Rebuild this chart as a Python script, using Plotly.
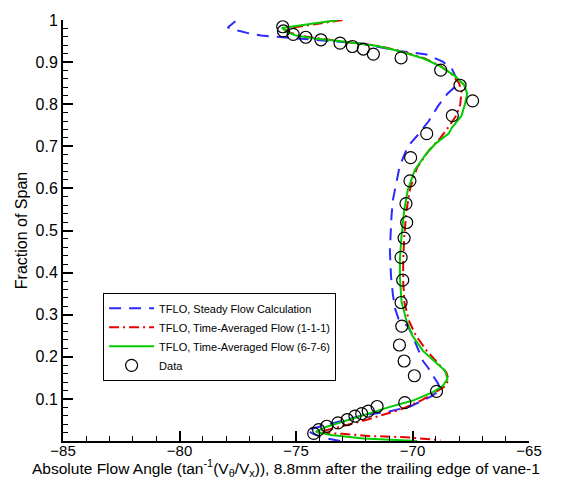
import plotly.graph_objects as go

# ---- data (angle in degrees, fraction of span) ----
steady_angle = [-77.6, -77.93, -77.5, -77.0, -76.5, -75.7, -74.0, -72.2, -70.5, -69.4, -68.7, -68.3,
                -68.1, -68.2, -68.5, -68.9, -69.3, -69.8, -70.2, -70.55, -70.7, -70.84, -70.9, -70.95,
                -70.97, -70.95, -70.92, -70.84, -70.75, -70.6, -70.19, -70.03, -69.55, -69.33, -69.12,
                -68.9, -68.8, -69.2, -70.1, -71.0, -72.2, -73.3, -74.0, -74.55, -74.3, -73.8, -73.4, -73.1]
steady_span = [0.997, 0.982, 0.975, 0.968, 0.963, 0.960, 0.952, 0.944, 0.926, 0.918, 0.901, 0.883,
               0.860, 0.840, 0.825, 0.796, 0.760, 0.725, 0.700, 0.653, 0.613, 0.573, 0.535, 0.488,
               0.455, 0.425, 0.390, 0.347, 0.315, 0.290, 0.272, 0.254, 0.190, 0.174, 0.155,
               0.136, 0.122, 0.106, 0.082, 0.070, 0.060, 0.045, 0.034, 0.026, 0.018, 0.007, 0.002, 0.0]

avg111_angle = [-73.0, -74.3, -75.5, -75.3, -74.9, -74.1, -73.0, -71.5, -70.5, -69.5, -68.8, -68.3,
                -68.0, -67.9, -67.95, -68.1, -68.4, -68.8, -69.3, -69.8, -70.1, -70.25, -70.35, -70.4,
                -70.4, -70.35, -70.15, -69.85, -69.4, -68.9, -68.55, -68.45, -68.65, -69.2, -69.6,
                -70.5, -71.2, -72.0, -72.9, -73.7, -74.1, -73.0, -71.9, -70.3, -68.8]
avg111_span = [1.0, 0.990, 0.979, 0.971, 0.963, 0.957, 0.950, 0.939, 0.926, 0.909, 0.891, 0.870,
               0.850, 0.830, 0.800, 0.775, 0.750, 0.720, 0.690, 0.650, 0.600, 0.550, 0.490, 0.430,
               0.380, 0.330, 0.285, 0.250, 0.215, 0.185, 0.163, 0.145, 0.128, 0.110, 0.097,
               0.075, 0.063, 0.050, 0.037, 0.026, 0.020, 0.017, 0.012, 0.009, 0.002]

avg676_angle = [-73.2, -74.4, -75.6, -75.4, -75.0, -74.2, -73.0, -71.5, -70.5, -69.5, -68.8, -68.2,
                -67.8, -67.65, -67.75, -67.9, -68.3, -68.45, -69.0, -69.4, -69.9, -70.2, -70.35, -70.47,
                -70.54, -70.54, -70.47, -70.25, -70.0, -69.55, -68.96, -68.6, -68.5, -68.7, -69.12,
                -69.98, -70.97, -71.82, -72.82, -73.68, -74.15, -73.5, -72.1, -70.7, -69.8]
avg676_span = [1.0, 0.990, 0.981, 0.972, 0.963, 0.956, 0.949, 0.938, 0.925, 0.908, 0.890, 0.868,
               0.847, 0.825, 0.800, 0.772, 0.745, 0.730, 0.707, 0.683, 0.644, 0.597, 0.550, 0.488,
               0.433, 0.386, 0.331, 0.284, 0.250, 0.214, 0.186, 0.167, 0.147, 0.131, 0.116,
               0.096, 0.081, 0.066, 0.049, 0.034, 0.022, 0.014, 0.006, 0.002, 0.0]

data_angle = [-75.57, -75.54, -75.12, -74.58, -73.93, -73.11, -72.58, -72.11, -71.68, -70.49,
              -68.79, -67.96, -67.42, -68.29, -69.39, -70.08, -70.11, -70.28, -70.25, -70.36,
              -70.49, -70.42, -70.49, -70.46, -70.56, -70.36, -69.92, -68.97, -70.33, -71.52,
              -71.9, -72.18, -72.47, -72.8, -73.2, -73.68, -74.03, -74.24]
data_span = [0.984, 0.974, 0.966, 0.959, 0.953, 0.945, 0.937, 0.931, 0.919, 0.910,
             0.881, 0.845, 0.808, 0.773, 0.730, 0.673, 0.618, 0.564, 0.519, 0.482,
             0.436, 0.382, 0.329, 0.273, 0.228, 0.190, 0.155, 0.118, 0.091, 0.082,
             0.071, 0.065, 0.059, 0.051, 0.043, 0.035, 0.027, 0.018]

x_ticks = [-85, -80, -75, -70, -65]
y_ticks = [0.1, 0.2, 0.3, 0.4, 0.5, 0.6, 0.7, 0.8, 0.9, 1.0]
y_ticktext = ["0.1", "0.2", "0.3", "0.4", "0.5", "0.6", "0.7", "0.8", "0.9", "1"]
x_title = "Absolute Flow Angle (tan<sup>-1</sup>(V<sub>θ</sub>/V<sub>x</sub>)), 8.8mm after the trailing edge of vane-1"
y_title = "Fraction of Span"

FONT = "Arial, 'Liberation Sans', sans-serif"

fig = go.Figure()
fig.add_trace(go.Scatter(x=steady_angle, y=steady_span, mode="lines",
                         name="TFLO, Steady Flow Calculation",
                         line=dict(color="#2b2bff", width=2, dash="12px,8px")))
fig.add_trace(go.Scatter(x=avg111_angle, y=avg111_span, mode="lines",
                         name="TFLO, Time-Averaged Flow (1-1-1)",
                         line=dict(color="#e60000", width=2, dash="10px,4px,2px,4px")))
fig.add_trace(go.Scatter(x=avg676_angle, y=avg676_span, mode="lines",
                         name="TFLO, Time-Averaged Flow (6-7-6)",
                         line=dict(color="#00cc00", width=2)))
fig.add_trace(go.Scatter(x=data_angle, y=data_span, mode="markers", name="Data",
                         marker=dict(symbol="circle-open", size=12, color="black",
                                     line=dict(width=1.2, color="black"))))

fig.update_layout(
    width=567, height=479,
    margin=dict(l=63, r=38, t=15, b=38),
    paper_bgcolor="white", plot_bgcolor="white",
    font=dict(family=FONT, color="black"),
    showlegend=True,
    legend=dict(x=0.086, y=0.352, xanchor="left", yanchor="top",
                bgcolor="white", bordercolor="black", borderwidth=1,
                font=dict(size=11, family=FONT), tracegroupgap=0,
                itemwidth=45),
    annotations=[
        dict(text=x_title, xref="paper", yref="paper", x=0.478, y=-0.0645,
             xanchor="center", yanchor="middle", showarrow=False,
             font=dict(size=15.5, family=FONT)),
    ],
)
fig.update_xaxes(
    range=[-85, -65], tickmode="array", tickvals=x_ticks,
    ticks="inside", ticklen=10, tickwidth=2, tickcolor="black",
    showline=True, linecolor="black", linewidth=2, mirror=False,
    showgrid=False, zeroline=False,
    tickfont=dict(size=15, family=FONT), ticklabelstandoff=-5,
    minor=dict(dtick=1, tick0=-85, ticks="inside", ticklen=5, tickwidth=1, tickcolor="black", showgrid=False),
)
fig.update_yaxes(
    range=[0, 1], tickmode="array", tickvals=y_ticks, ticktext=y_ticktext,
    ticks="inside", ticklen=10, tickwidth=2, tickcolor="black",
    showline=True, linecolor="black", linewidth=2, mirror=False,
    showgrid=False, zeroline=False,
    tickfont=dict(size=16, family=FONT),
    minor=dict(dtick=0.02, tick0=0, ticks="inside", ticklen=5, tickwidth=1, tickcolor="black", showgrid=False),
    title=dict(text=y_title, font=dict(size=16, family=FONT), standoff=4),
)

fig.write_html("out.html")
